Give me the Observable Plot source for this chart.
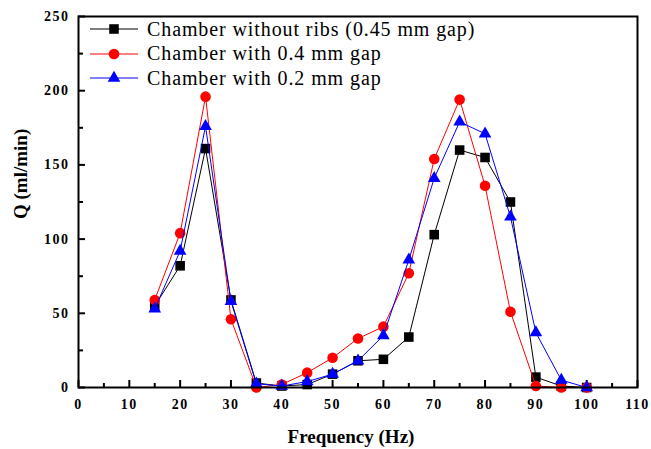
<!DOCTYPE html>
<html><head><meta charset="utf-8">
<script src="https://cdn.jsdelivr.net/npm/d3@7"></script>
<script src="https://cdn.jsdelivr.net/npm/@observablehq/plot@0.6"></script>
<style>
body{margin:0;background:#fff}
#wrap{position:relative;width:651px;height:449px}
#legend{position:absolute;left:90px;top:17px;font-family:'Liberation Serif';font-size:20px;letter-spacing:0.9px;color:#000}
.row{display:flex;align-items:center;height:24.5px;white-space:nowrap}
.row svg{margin-right:7px;flex:none}
</style></head><body><div id="wrap"><div id="legend"></div></div>
<script>
const frequency = [15,20,25,30,35,40,45,50,55,60,65,70,75,80,85,90,95,100];
const noRibs = [55,82,161,59,3,1,2,9,18,19,34,103,160,155,125,7,1,0];
const gap04 = [59,104,196,46,0,2,10,20,33,41,77,154,194,136,51,1,0,0];
const gap02 = [53,92,176,58,2.5,1,4,9,18,35,86,141,179,171,115,37,5,0];
const seriesNames = ["Chamber without ribs (0.45 mm gap)","Chamber with 0.4 mm gap","Chamber with 0.2 mm gap"];
const seriesColors = ["#000000","#ff0000","#0000ff"];
const seriesSymbols = ["square","circle","triangle"];
const seriesR = [5.4,5.3,4.7];
const xTicks = [0,10,20,30,40,50,60,70,80,90,100,110];
const xMinor = [5,15,25,35,45,55,65,75,85,95,105];
const yTicks = [0,50,100,150,200,250];
const yMinor = [25,75,125,175,225];
const xTitle = "Frequency (Hz)";
const yTitle = "Q (ml/min)";

const seriesValues = [noRibs, gap04, gap02];
const seriesData = seriesValues.map(vals => frequency.map((f, j) => ({f, q: vals[j]})));
const fontSerif = "Liberation Serif";

const seriesMarks = seriesData.flatMap((d, i) => [
  Plot.line(d, {x: "f", y: "q", stroke: seriesColors[i], strokeWidth: 1}),
  Plot.dot(d, {x: "f", y: "q", symbol: seriesSymbols[i], fill: seriesColors[i], stroke: "none", r: seriesR[i]})
]);

const chart = Plot.plot({
  width: 651, height: 449,
  marginLeft: 78, marginRight: 14, marginTop: 16, marginBottom: 62,
  x: {domain: [0, 110]},
  y: {domain: [0, 250]},
  style: {fontFamily: fontSerif, fontSize: "14px", fontWeight: "bold", background: "white", color: "#000", overflow: "visible"},
  marks: [
    Plot.axisX({ticks: xTicks, tickSize: 0, tickPadding: 12, label: null}),
    Plot.axisX({ticks: xTicks, tickSize: -7, strokeWidth: 2, tickFormat: () => "", label: null}),
    Plot.axisX({ticks: xMinor, tickSize: -4, strokeWidth: 2, tickFormat: () => "", label: null}),
    Plot.axisY({ticks: yTicks, tickSize: 0, tickPadding: 9, label: null}),
    Plot.axisY({ticks: yTicks, tickSize: -7, strokeWidth: 2, tickFormat: () => "", label: null}),
    Plot.axisY({ticks: yMinor, tickSize: -5, strokeWidth: 2, tickFormat: () => "", label: null}),
    ...seriesMarks,
    Plot.frame({stroke: "#000", strokeWidth: 2}),
    Plot.text([xTitle], {frameAnchor: "bottom", text: d => d, dy: 49, dx: -7, lineAnchor: "middle", fontSize: 19, fontWeight: "bold", fontFamily: fontSerif}),
    Plot.text([yTitle], {frameAnchor: "left", text: d => d, rotate: -90, dx: -58, dy: 17, lineAnchor: "middle", fontSize: 19, fontWeight: "bold", fontFamily: fontSerif})
  ]
});
chart.querySelectorAll("text").forEach(t => { t.setAttribute("font-family", fontSerif); t.style.fontFamily = "'Liberation Serif'"; });
chart.querySelectorAll('g[aria-label$="tick label"] text').forEach(t => t.style.letterSpacing = "1.5px");
const wrap = document.getElementById("wrap");
wrap.insertBefore(chart, wrap.firstChild);

const legend = d3.select("#legend");
seriesNames.forEach((name, i) => {
  const row = legend.append("div").attr("class", "row");
  const svg = row.append("svg").attr("width", 50).attr("height", 20);
  svg.append("line").attr("x1", 0).attr("x2", 48).attr("y1", 10).attr("y2", 10).attr("stroke", seriesColors[i]).attr("stroke-width", 1.2);
  const sym = {square: d3.symbolSquare, circle: d3.symbolCircle, triangle: d3.symbolTriangle}[seriesSymbols[i]];
  svg.append("path").attr("transform", "translate(24,10)").attr("d", d3.symbol(sym, Math.PI * seriesR[i] * seriesR[i])()).attr("fill", seriesColors[i]);
  row.append("span").style("font-family", "'Liberation Serif'").text(name);
});
</script></body></html>
